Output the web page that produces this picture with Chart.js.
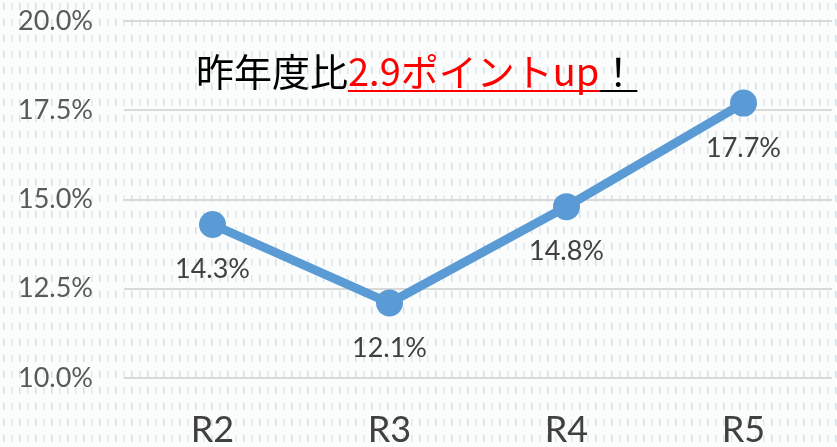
<!DOCTYPE html>
<html>
<head>
<meta charset="utf-8">
<script src="https://cdn.jsdelivr.net/npm/chart.js@4/dist/chart.umd.min.js"></script>
<style>
  html, body { margin: 0; padding: 0; background: #fff; }
  #wrap { width: 837px; height: 447px; }
</style>
</head>
<body>
<div id="wrap"><canvas id="chartOne" width="837" height="447"></canvas></div>
<script>
let categories = ['R2', 'R3', 'R4', 'R5'];
let rates = [14.3, 12.1, 14.8, 17.7];
let yTicks = [10, 12.5, 15, 17.5, 20];
let headBlack = '昨年度比';
let headRed = '2.9ポイントup';
let headTail = '！';

// dashed background like the original
const bgPlugin = {
    id: 'bg',
    beforeDraw(chart) {
        const c = chart.ctx;
        const tile = document.createElement('canvas');
        tile.width = 16; tile.height = 16;
        const t = tile.getContext('2d');
        t.fillStyle = '#fbfdfd';
        t.fillRect(0, 0, 16, 16);
        t.fillStyle = '#d3e0e6';
        t.fillRect(3, 3, 1.5, 7);
        t.fillStyle = '#e0e9ed';
        t.fillRect(11, 3, 1.5, 7);
        c.save();
        c.fillStyle = c.createPattern(tile, 'repeat');
        c.fillRect(0, 0, chart.width, chart.height);
        c.restore();
    }
};

// value labels under each point + headline text
const labelPlugin = {
    id: 'labels',
    afterDatasetsDraw(chart) {
        const c = chart.ctx;
        const meta = chart.getDatasetMeta(0);
        c.save();
        c.font = '27px Lato, "Noto Sans", sans-serif';
        c.fillStyle = '#404040';
        c.textAlign = 'center';
        c.textBaseline = 'middle';
        meta.data.forEach((pt, i) => {
            c.fillText(rates[i].toFixed(1) + '%', pt.x, pt.y + 45);
        });

        // headline
        c.font = '38px "Noto Sans CJK JP", sans-serif';
        c.textAlign = 'left';
        c.textBaseline = 'alphabetic';
        let x = 196, y = 86;
        c.fillStyle = '#000000';
        c.fillText(headBlack, x, y);
        x += c.measureText(headBlack).width;
        let w = c.measureText(headRed).width;
        c.fillStyle = '#ff0000';
        c.fillText(headRed, x, y);
        c.fillRect(x, y + 4, w, 2);
        x += w;
        w = c.measureText(headTail).width;
        c.fillStyle = '#000000';
        c.fillText(headTail, x, y);
        c.fillRect(x, y + 4, w, 2);
        c.restore();
    }
};

var ctx = document.getElementById('chartOne').getContext('2d');
var chartOne = new Chart(ctx, {
    type: 'line',
    data: {
        labels: categories,
        datasets: [{
            data: rates,
            borderColor: '#5b9bd5',
            backgroundColor: '#5b9bd5',
            borderWidth: 9,
            pointRadius: 13.5,
            pointHoverRadius: 13.5,
            pointBackgroundColor: '#5b9bd5',
            pointBorderWidth: 0,
            tension: 0,
            clip: false
        }]
    },
    options: {
        responsive: false,
        animation: false,
        layout: { autoPadding: false, padding: { top: 21, right: 5, bottom: 0, left: 0 } },
        plugins: {
            legend: { display: false },
            tooltip: { enabled: false }
        },
        scales: {
            x: {
                offset: true,
                grid: { display: false, drawTicks: false },
                border: { display: false },
                ticks: {
                    color: '#404040',
                    font: { family: 'Lato, "Noto Sans", sans-serif', size: 36 },
                    padding: 31
                },
                afterFit(scale) {
                    scale.height = 69;
                    scale.paddingLeft = 0;
                    scale.paddingRight = 0;
                }
            },
            y: {
                min: 10,
                max: 20,
                afterBuildTicks(scale) { scale.ticks = yTicks.map(v => ({ value: v })); },
                grid: { color: '#d9d9d9', lineWidth: 2, drawTicks: false },
                border: { display: false },
                ticks: {
                    color: '#595959',
                    font: { family: 'Lato, "Noto Sans", sans-serif', size: 27 },
                    padding: 31,
                    callback: v => v.toFixed(1) + '%'
                },
                afterFit(scale) {
                    scale.width = 124;
                    scale.paddingTop = 0;
                    scale.paddingBottom = 0;
                }
            }
        }
    },
    plugins: [bgPlugin, labelPlugin]
});
</script>
</body>
</html>
